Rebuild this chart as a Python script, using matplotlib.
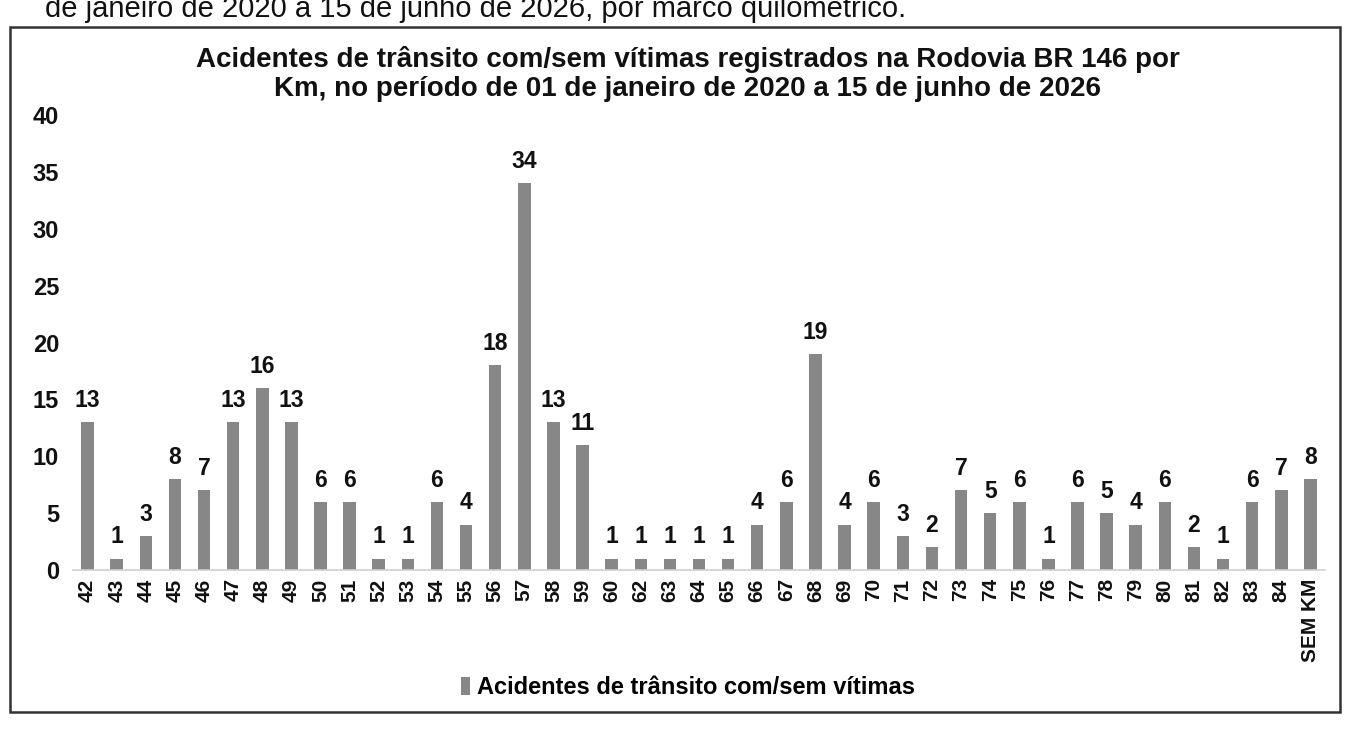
import matplotlib.pyplot as plt
from matplotlib.patches import Rectangle

plt.rcParams['font.family'] = ['Liberation Sans', 'DejaVu Sans']

# Km markers (no km 61) and accident counts
kms = ["42", "43", "44", "45", "46", "47", "48", "49", "50", "51", "52", "53",
       "54", "55", "56", "57", "58", "59", "60", "62", "63", "64", "65", "66",
       "67", "68", "69", "70", "71", "72", "73", "74", "75", "76", "77", "78",
       "79", "80", "81", "82", "83", "84", "SEM KM"]
acidentes = [13, 1, 3, 8, 7, 13, 16, 13, 6, 6, 1, 1,
             6, 4, 18, 34, 13, 11, 1, 1, 1, 1, 1, 4,
             6, 19, 4, 6, 3, 2, 7, 5, 6, 1, 6, 5,
             4, 6, 2, 1, 6, 7, 8]
yticks = [0, 5, 10, 15, 20, 25, 30, 35, 40]

W, H = 1348, 748
fig = plt.figure(figsize=(W / 100, H / 100), dpi=100)

# axes placed in pixel terms: x 73..1325, y(0)=570, y(40)=115
ax = fig.add_axes([73 / W, (H - 570) / H, (1325 - 73) / W, (570 - 115) / H])

bar_color = "#878787"
x = range(len(kms))
bars = ax.bar(x, acidentes, width=0.43, color=bar_color,
              label="Acidentes de trânsito com/sem vítimas")

for xi, v in zip(x, acidentes):
    ax.text(xi, v + 0.9, str(v), ha="center", va="bottom",
            fontsize=16.5, fontweight="bold", color="#111111")

ax.set_xlim(-0.5, len(kms) - 0.5)
ax.set_ylim(0, 40)
ax.set_xticks(list(x))
ax.set_xticklabels(kms, rotation=90, fontsize=15, fontweight="bold", color="#111111")
ax.set_yticks(yticks)
ax.set_yticklabels([str(t) for t in yticks], fontsize=17, fontweight="bold", color="#111111")
ax.tick_params(axis="both", length=0)
ax.tick_params(axis="y", pad=10)
ax.tick_params(axis="x", pad=6)

for s in ["top", "right", "left"]:
    ax.spines[s].set_visible(False)
ax.spines["bottom"].set_color("#d0d0d0")
ax.spines["bottom"].set_linewidth(1.2)

# title
fig.text(688 / W, 1 - 74 / H,
         "Acidentes de trânsito com/sem vítimas registrados na Rodovia BR 146 por\n"
         "Km, no período de 01 de janeiro de 2020 a 15 de junho de 2026",
         ha="center", va="center", fontsize=20, fontweight="bold",
         color="#111111", linespacing=1.15)

# legend
leg = fig.legend(handles=[bars], labels=["Acidentes de trânsito com/sem vítimas"],
                 loc="center", bbox_to_anchor=(688 / W, 1 - 688 / H),
                 frameon=False, handlelength=0.4, handleheight=0.8,
                 handletextpad=0.3,
                 prop={"weight": "bold", "size": 17})

# frame around the chart, as in the scanned page
fig.patches.append(Rectangle((10 / W, 1 - 712 / H), (1340 - 10) / W, (712 - 27) / H,
                             transform=fig.transFigure, fill=False,
                             edgecolor="#333333", linewidth=1.8))

# page text above the chart, cut off by the scan
fig.text(45 / W, 1 - 17 / H,
         "de janeiro de 2020 a 15 de junho de 2026, por marco quilométrico.",
         ha="left", va="baseline", fontsize=21, color="#111111")

fig.savefig("out.png", dpi=100)
